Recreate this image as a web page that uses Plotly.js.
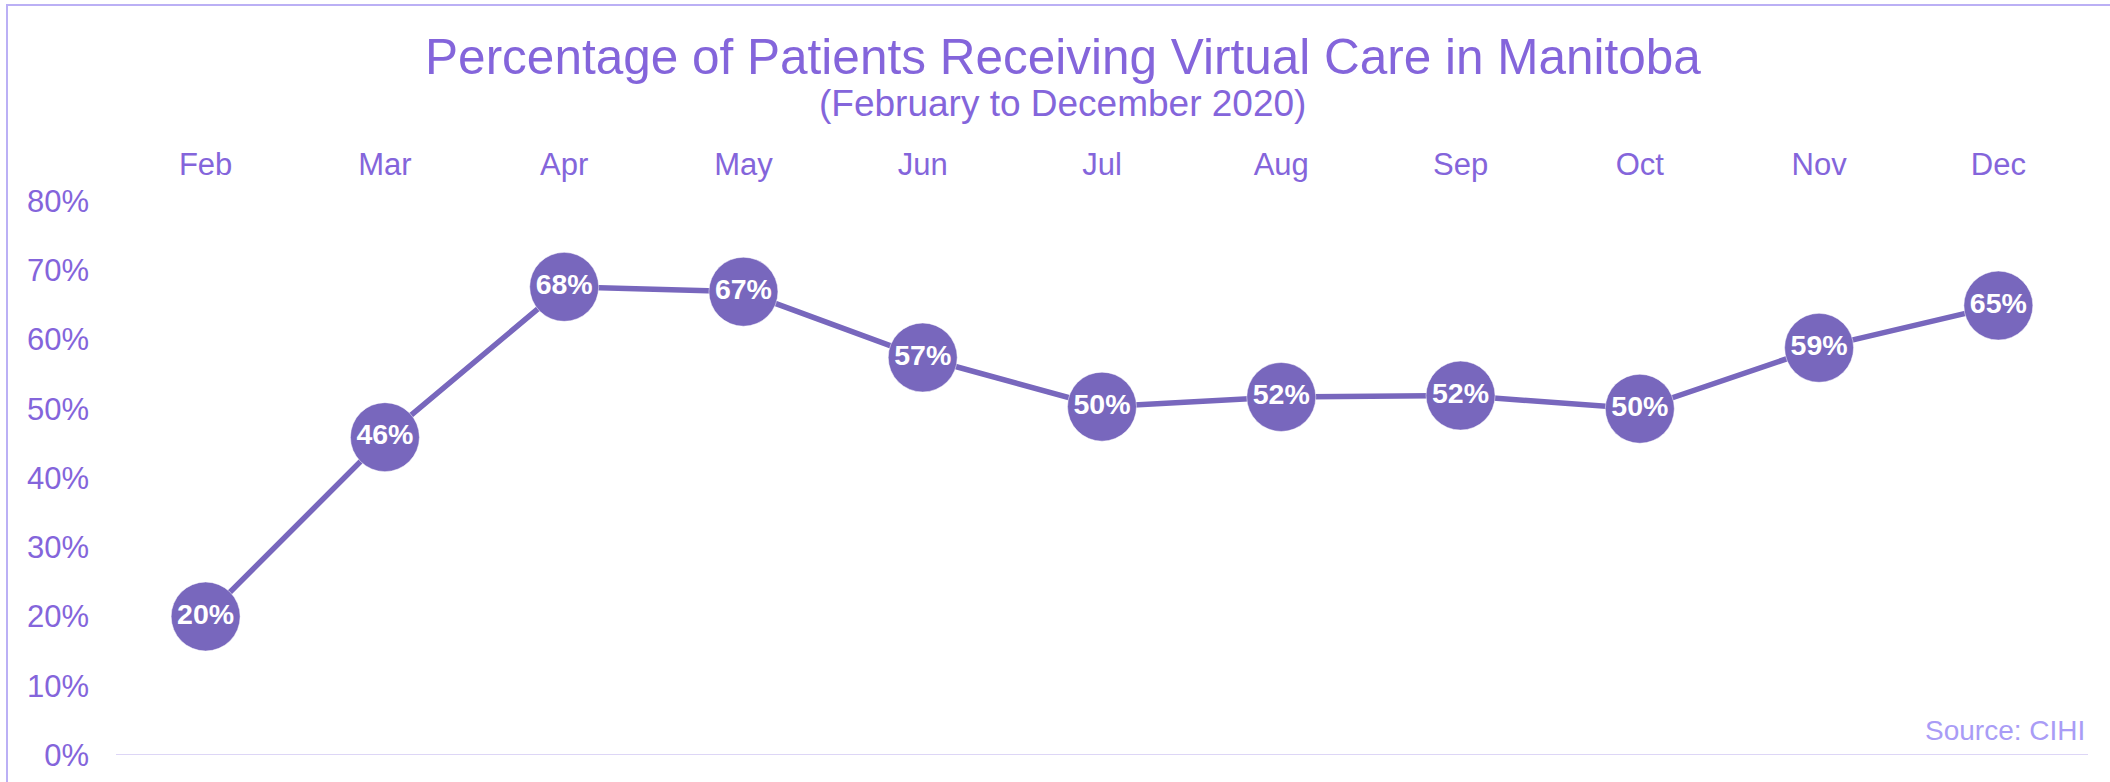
<!DOCTYPE html>
<html>
<head>
<meta charset="utf-8">
<script src="https://cdn.plot.ly/plotly-3.0.1.min.js"></script>
<style>
  html, body { margin: 0; padding: 0; background: #ffffff; }
  #chart { width: 2110px; height: 782px; }
</style>
</head>
<body>
<div id="chart"></div>
<script>
// ---- data ----
const months = ["Feb", "Mar", "Apr", "May", "Jun", "Jul", "Aug", "Sep", "Oct", "Nov", "Dec"];
const virtualCarePct = [20.0, 45.9, 67.6, 66.9, 57.4, 50.3, 51.7, 51.9, 50.0, 58.8, 64.9];
const yTickVals = [0, 10, 20, 30, 40, 50, 60, 70, 80];
const yTickText = ["0%", "10%", "20%", "30%", "40%", "50%", "60%", "70%", "80%"];

const titleText = "Percentage of Patients Receiving Virtual Care in Manitoba";
const subtitleText = "(February to December 2020)";
const sourceText = "Source: CIHI";

// ---- styling ----
const W = 2110, H = 782;
const M = { l: 116, r: 22, t: 201, b: 27 };
const PW = W - M.l - M.r, PH = H - M.t - M.b;
const FONT = "Liberation Sans, Arial, Helvetica, sans-serif";
const textPurple = "#8465db";
const markPurple = "#7867bd";

function px2paperX(px) { return (px - M.l) / PW; }
function px2paperY(py) { return (H - M.b - py) / PH; }

const trace = {
  x: months,
  y: virtualCarePct,
  type: "scatter",
  mode: "lines+markers+text",
  line: { color: markPurple, width: 5.5 },
  marker: { color: markPurple, size: 69, line: { color: "#ffffff", width: 0.5 } },
  texttemplate: "%{y:.0f}%",
  textposition: "middle center",
  textfont: { family: FONT, size: 28.5, color: "#ffffff", weight: 700 },
  hoverinfo: "skip",
  cliponaxis: false
};

const layout = {
  width: W,
  height: H,
  margin: M,
  paper_bgcolor: "#ffffff",
  plot_bgcolor: "#ffffff",
  showlegend: false,
  hovermode: false,
  font: { family: FONT, color: textPurple },
  title: {
    text: titleText,
    font: { family: FONT, size: 49.5, color: textPurple },
    xref: "container", x: 1063 / W, xanchor: "center",
    yref: "container", y: 1 - 57 / H, yanchor: "middle"
  },
  xaxis: {
    type: "category",
    side: "top",
    range: [-0.5, months.length - 0.5],
    showgrid: false,
    zeroline: false,
    showline: false,
    ticks: "",
    ticklabelstandoff: 19,
    tickfont: { family: FONT, size: 31, color: textPurple },
    fixedrange: true
  },
  yaxis: {
    range: [0, 80],
    tickvals: yTickVals,
    ticktext: yTickText,
    showgrid: false,
    zeroline: false,
    showline: false,
    ticks: "",
    ticklabelstandoff: 26,
    tickfont: { family: FONT, size: 31, color: textPurple },
    fixedrange: true
  },
  shapes: [
    {
      type: "line", xref: "paper", yref: "y",
      x0: 0, x1: 1, y0: 0, y1: 0,
      line: { color: "#ddd6f6", width: 2 },
      layer: "below"
    },
    {
      type: "rect", xref: "paper", yref: "paper",
      x0: px2paperX(7), x1: px2paperX(2300),
      y0: px2paperY(900), y1: px2paperY(5),
      line: { color: "#bbb0f5", width: 2 },
      fillcolor: "rgba(0,0,0,0)",
      layer: "below"
    }
  ],
  annotations: [
    {
      text: subtitleText,
      xref: "paper", yref: "paper",
      x: px2paperX(1062), y: px2paperY(104),
      xanchor: "center", yanchor: "middle",
      showarrow: false,
      font: { family: FONT, size: 37, color: textPurple }
    },
    {
      text: sourceText,
      xref: "paper", yref: "paper",
      x: px2paperX(2087), y: px2paperY(730),
      xanchor: "right", yanchor: "middle",
      showarrow: false,
      font: { family: FONT, size: 28, color: "#a99cf6" }
    }
  ]
};

Plotly.newPlot("chart", [trace], layout, { displayModeBar: false, staticPlot: true });
</script>
</body>
</html>
